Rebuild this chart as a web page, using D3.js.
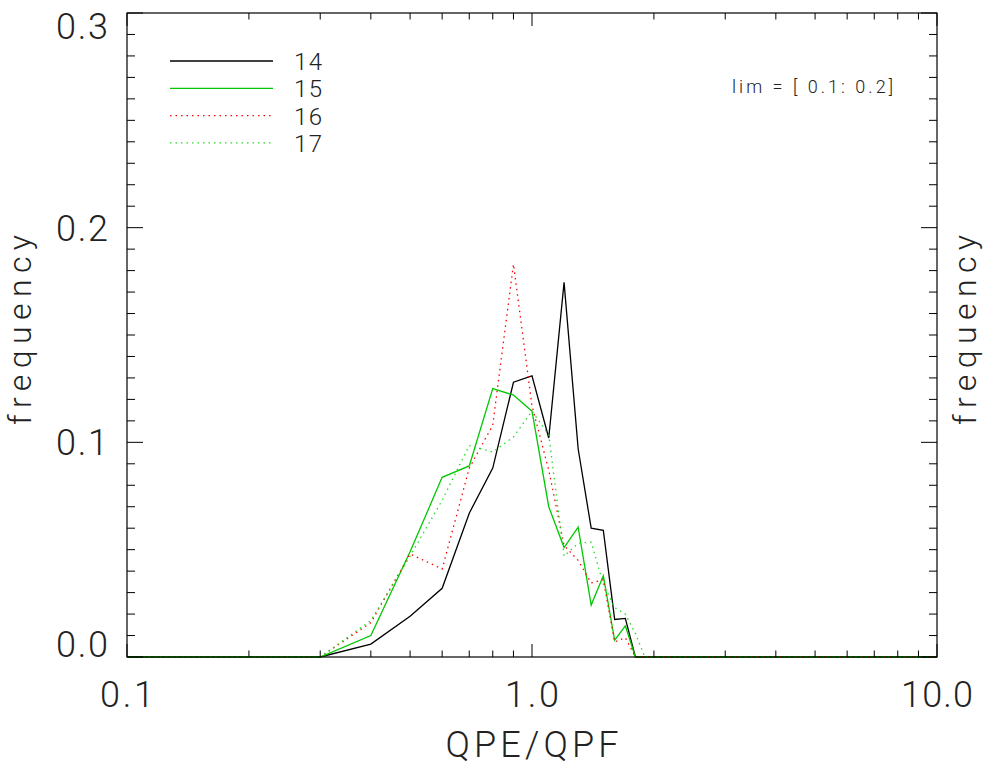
<!DOCTYPE html>
<html lang="en">
<head>
    <meta charset="UTF-8">
    <title>QPE/QPF frequency</title>
    <script src="https://d3js.org/d3.v7.min.js"></script>
    <style>
        body { margin: 0; background: #fff; }
        text { font-family: Roboto, "DejaVu Sans", sans-serif; font-weight: 300; fill: #222; }
    </style>
</head>
<body>
<svg width="984" height="769"></svg>
<script>

    // ratio bins (x) and frequency per series
    const ratio = [0.1, 0.2, 0.3, 0.4, 0.5, 0.6, 0.7, 0.8, 0.9, 1.0,
                   1.1, 1.2, 1.3, 1.4, 1.5, 1.6, 1.7, 1.8, 1.9, 2.0, 10.0];
    const freq14 = [0, 0, 0, 0.006, 0.019, 0.032, 0.067, 0.088, 0.128, 0.131,
                    0.102, 0.1745, 0.097, 0.060, 0.059, 0.0175, 0.018, 0, 0, 0, 0];
    const freq15 = [0, 0, 0, 0.010, 0.049, 0.0837, 0.089, 0.125, 0.122, 0.1145,
                    0.070, 0.051, 0.0605, 0.0242, 0.0378, 0.0078, 0.0145, 0, 0, 0, 0];
    const freq16 = [0, 0, 0, 0.016, 0.048, 0.041, 0.088, 0.108, 0.183, 0.117,
                    0.087, 0.052, 0.045, 0.0345, 0.036, 0.007, 0.009, 0, 0, 0, 0];
    const freq17 = [0, 0, 0, 0.017, 0.047, 0.073, 0.0985, 0.0955, 0.1025, 0.1145,
                    0.1035, 0.047, 0.053, 0.0535, 0.034, 0.023, 0.020, 0.011, 0, 0, 0];

    const seriesNames = ["14", "15", "16", "17"];
    const xTickLabels = ["0.1", "1.0", "10.0"];
    const yTickLabels = ["0.0", "0.1", "0.2", "0.3"];
    const limText = "lim = [ 0.1: 0.2]";

    const series = [
        { name: seriesNames[0], values: freq14, color: "#000000", dash: null },
        { name: seriesNames[1], values: freq15, color: "#00c800", dash: null },
        { name: seriesNames[2], values: freq16, color: "#ff0000", dash: "1.5,4" },
        { name: seriesNames[3], values: freq17, color: "#22dd22", dash: "1.5,4" }
    ];

    const svg = d3.select("svg");
    const plotL = 127, plotR = 937, plotT = 13, plotB = 657;

    // scales
    const x = d3.scaleLog().domain([0.1, 10]).range([plotL, plotR]);
    const y = d3.scaleLinear().domain([0, 0.3]).range([plotB, plotT]);

    // lines first, frame drawn on top
    const line = d3.line()
        .x((d, i) => x(ratio[i]))
        .y(d => y(d));

    svg.append("g")
        .selectAll("path")
        .data(series)
        .enter()
        .append("path")
        .attr("d", d => line(d.values))
        .attr("fill", "none")
        .attr("stroke", d => d.color)
        .attr("stroke-width", 1.3)
        .attr("stroke-dasharray", d => d.dash);

    // IDL style ticks: major/minor on all four sides
    const xMajor = [0.1, 1, 10];
    const xMinor = [];
    [0.1, 1].forEach(dec => { for (let k = 2; k < 10; k++) xMinor.push(dec * k); });
    const yMajor = [0, 0.1, 0.2, 0.3];
    const yMinor = d3.range(1, 30).filter(k => k % 10 !== 0).map(k => k / 100);

    const xMajLen = 13, xMinLen = 6.5, yMajLen = 16, yMinLen = 8;
    const ticks = svg.append("g").attr("stroke", "#000").attr("stroke-width", 1);

    function xTick(v, len) {
        ticks.append("line").attr("x1", x(v)).attr("x2", x(v)).attr("y1", plotB).attr("y2", plotB - len);
        ticks.append("line").attr("x1", x(v)).attr("x2", x(v)).attr("y1", plotT).attr("y2", plotT + len);
    }
    function yTick(v, len) {
        ticks.append("line").attr("x1", plotL).attr("x2", plotL + len).attr("y1", y(v)).attr("y2", y(v));
        ticks.append("line").attr("x1", plotR).attr("x2", plotR - len).attr("y1", y(v)).attr("y2", y(v));
    }
    xMajor.forEach(v => xTick(v, xMajLen));
    xMinor.forEach(v => xTick(v, xMinLen));
    yMajor.forEach(v => yTick(v, yMajLen));
    yMinor.forEach(v => yTick(v, yMinLen));

    svg.append("rect")
        .attr("x", plotL).attr("y", plotT)
        .attr("width", plotR - plotL).attr("height", plotB - plotT)
        .attr("fill", "none").attr("stroke", "#000").attr("stroke-width", 1.2);

    // tick labels (wide, thin lettering like the IDL vector font)
    svg.append("g").selectAll("text")
        .data(xMajor)
        .enter().append("text")
        .attr("x", d => x(d))
        .attr("y", 707)
        .attr("text-anchor", "middle")
        .attr("font-size", 36)
        .attr("textLength", (d, i) => xTickLabels[i].length * 18)
        .attr("lengthAdjust", "spacing")
        .text((d, i) => xTickLabels[i]);

    // y labels centred on the tick, kept inside the frame
    svg.append("g").selectAll("text")
        .data(yMajor)
        .enter().append("text")
        .attr("x", 108)
        .attr("y", d => Math.min(Math.max(y(d), plotT + 13), plotB - 13) + 13)
        .attr("text-anchor", "end")
        .attr("font-size", 36)
        .attr("textLength", 52)
        .attr("lengthAdjust", "spacing")
        .text((d, i) => yTickLabels[i]);

    // axis titles
    svg.append("text")
        .attr("x", x(1)).attr("y", 757)
        .attr("text-anchor", "middle")
        .attr("font-size", 36)
        .attr("textLength", 173)
        .attr("lengthAdjust", "spacing")
        .text("QPE/QPF");

    [31, 976].forEach(cx => {
        svg.append("text")
            .attr("transform", `translate(${cx}, 330) rotate(-90)`)
            .attr("text-anchor", "middle")
            .attr("font-size", 32)
            .attr("textLength", 190)
            .attr("lengthAdjust", "spacing")
            .text("frequency");
    });

    // legend
    const legend = svg.append("g").attr("transform", "translate(170, 61)");
    const legendStep = 27.3;
    legend.selectAll("line")
        .data(series)
        .enter().append("line")
        .attr("x1", 0).attr("x2", 103)
        .attr("y1", (d, i) => i * legendStep)
        .attr("y2", (d, i) => i * legendStep)
        .attr("stroke", d => d.color)
        .attr("stroke-width", 1.3)
        .attr("stroke-dasharray", d => d.dash);
    legend.selectAll("text")
        .data(series)
        .enter().append("text")
        .attr("x", 124)
        .attr("y", (d, i) => i * legendStep + 9)
        .attr("font-size", 24)
        .attr("textLength", 28)
        .attr("lengthAdjust", "spacing")
        .text(d => d.name);

    svg.append("text")
        .attr("x", 732).attr("y", 93)
        .attr("font-size", 18)
        .attr("textLength", 161)
        .attr("lengthAdjust", "spacing")
        .text(limText);

</script>
</body>
</html>
